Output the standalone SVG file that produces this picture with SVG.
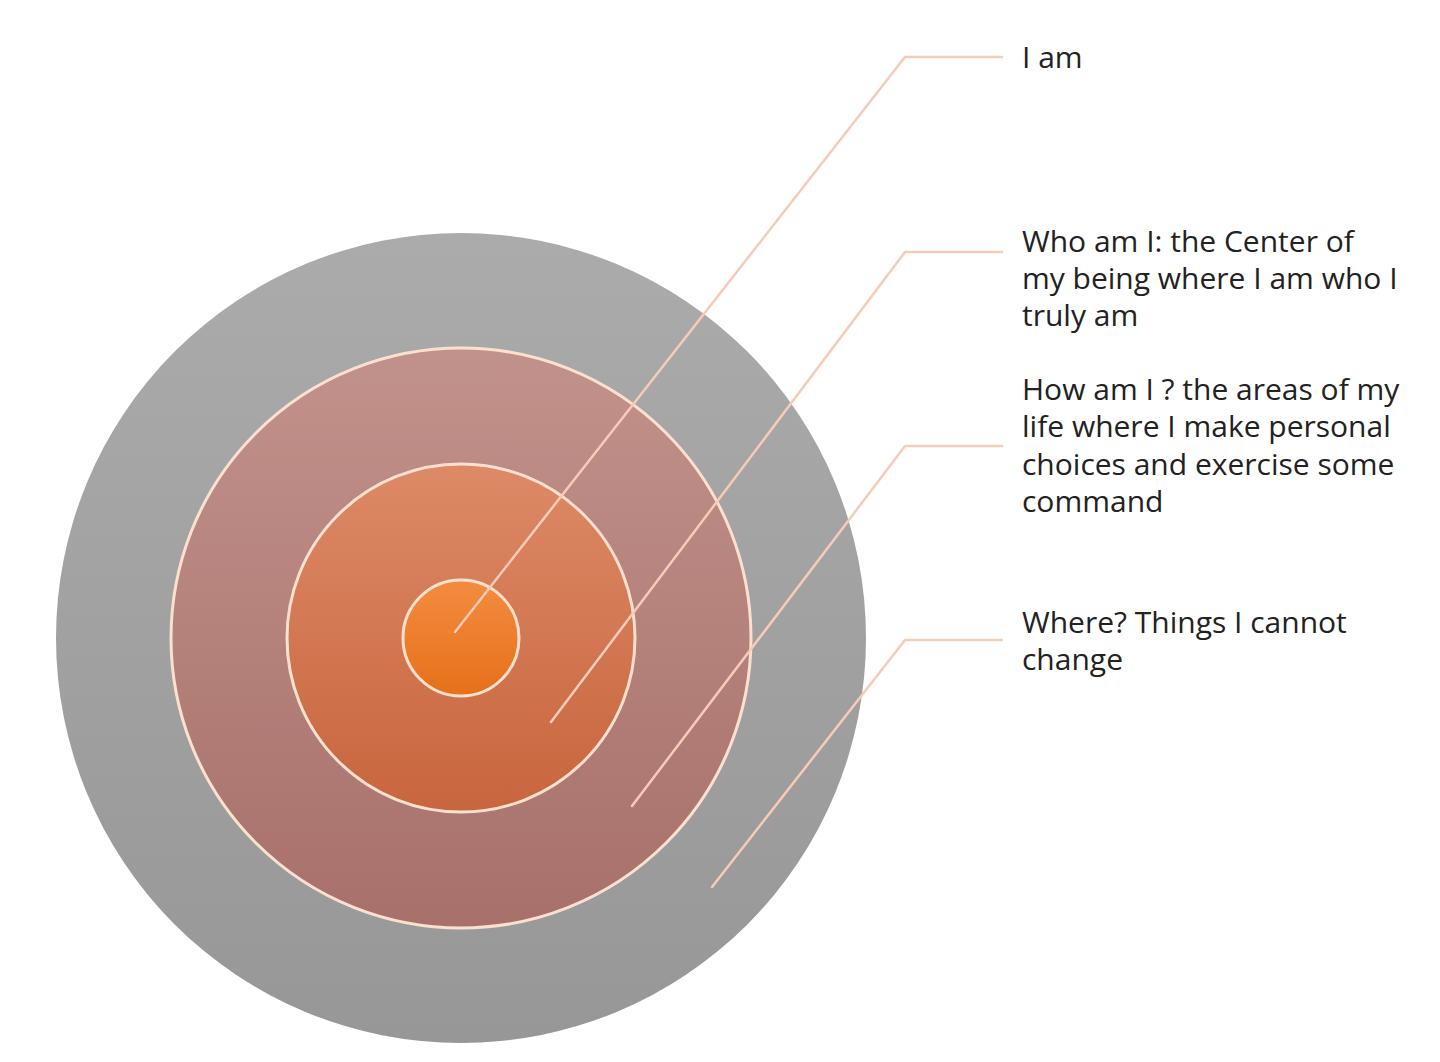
<svg xmlns="http://www.w3.org/2000/svg" width="1440" height="1062" viewBox="0 0 1440 1062">
  <defs>
    <linearGradient id="gOuter" x1="0" y1="0" x2="0" y2="1">
      <stop offset="0" stop-color="#ababab"/>
      <stop offset="1" stop-color="#979797"/>
    </linearGradient>
    <linearGradient id="gRing2" x1="0" y1="0" x2="0" y2="1">
      <stop offset="0" stop-color="#c1928b"/>
      <stop offset="1" stop-color="#a8706b"/>
    </linearGradient>
    <linearGradient id="gRing3" x1="0" y1="0" x2="0" y2="1">
      <stop offset="0" stop-color="#dd8a66"/>
      <stop offset="1" stop-color="#c7653e"/>
    </linearGradient>
    <linearGradient id="gCore" x1="0" y1="0" x2="0" y2="1">
      <stop offset="0" stop-color="#f38c40"/>
      <stop offset="1" stop-color="#e6701a"/>
    </linearGradient>
  </defs>
  <style>
    .ring { stroke: #fbe0d0; stroke-width: 3; }
    .conn { fill: none; stroke: #f6cbb8; stroke-width: 2.5; stroke-linecap: round; stroke-linejoin: round; }
    .lbl { font-family: "Open Sans", "Liberation Sans", sans-serif; font-size: 30px; font-weight: 500; fill: #222222; }
  </style>
  <rect width="1440" height="1062" fill="#ffffff"/>
  <g id="outer">
    <circle cx="461" cy="638" r="405" fill="url(#gOuter)"/>
  </g>
  <g id="ring-how">
    <circle class="ring" cx="461" cy="638" r="290" fill="url(#gRing2)"/>
  </g>
  <g id="ring-who">
    <circle class="ring" cx="461" cy="638" r="174" fill="url(#gRing3)"/>
  </g>
  <g id="core">
    <circle class="ring" cx="461" cy="638" r="58" fill="url(#gCore)"/>
  </g>
  <g id="connectors">
    <polyline class="conn" points="455,632 905,57 1002,57"/>
    <polyline class="conn" points="551,722 905,252 1002,252"/>
    <polyline class="conn" points="632,806 905,446 1002,446"/>
    <polyline class="conn" points="712,887 905,640 1002,640"/>
  </g>
  <g id="label-i-am">
    <text class="lbl" x="1022" y="68">I am</text>
  </g>
  <g id="label-who">
    <text class="lbl" x="1022" y="252">Who am I: the Center of</text>
    <text class="lbl" x="1022" y="289">my being where I am who I</text>
    <text class="lbl" x="1022" y="326">truly am</text>
  </g>
  <g id="label-how">
    <text class="lbl" x="1022" y="400">How am I ? the areas of my</text>
    <text class="lbl" x="1022" y="437">life where I make personal</text>
    <text class="lbl" x="1022" y="475">choices and exercise some</text>
    <text class="lbl" x="1022" y="512">command</text>
  </g>
  <g id="label-where">
    <text class="lbl" x="1022" y="633">Where? Things I cannot</text>
    <text class="lbl" x="1022" y="670">change</text>
  </g>
</svg>
